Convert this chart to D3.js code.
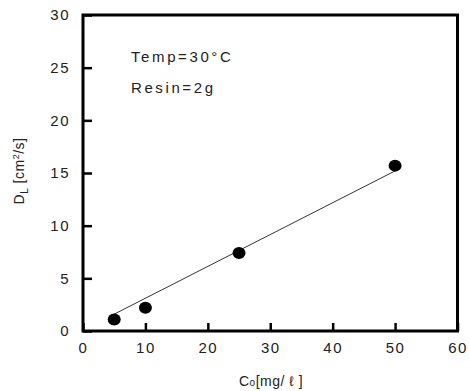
<!DOCTYPE html>
<html>
<head>
<meta charset="utf-8">
<script src="https://cdn.jsdelivr.net/npm/d3@7"></script>
<style>
  body { margin: 0; background: #fff; }
  text { font-family: "Liberation Sans", Arial, sans-serif; fill: #222; }
</style>
</head>
<body>
<script>
// measured points
var conc = [5, 10, 25, 50];
var dl = [1.1, 2.2, 7.4, 15.7];

// fitted line ends
var fitX = [5, 50];
var fitY = [1.6, 15.2];

var xTicks = [0, 10, 20, 30, 40, 50, 60];
var yTicks = [0, 5, 10, 15, 20, 25, 30];

var notes = ["Temp=30°C", "Resin=2g"];

var width = 469,
	height = 391;

var svg = d3.select("body").append("svg")
			.attr("width", width)
			.attr("height", height);

var x = d3.scaleLinear().domain([0, 60]).range([83, 457.5]);
var y = d3.scaleLinear().domain([0, 30]).range([331, 15]);

// frame
svg.append("rect")
	.attr("x", x(0))
	.attr("y", y(30))
	.attr("width", x(60) - x(0))
	.attr("height", y(0) - y(30))
	.style("fill", "none")
	.style("stroke", "#000")
	.style("stroke-width", 3);

var yAxis = svg.append("g")
	.attr("transform", "translate(" + x(0) + ",0)")
	.call(d3.axisLeft(y).tickValues(yTicks).tickSize(-9).tickPadding(13));

var xAxis = svg.append("g")
	.attr("transform", "translate(0," + y(0) + ")")
	.call(d3.axisBottom(x).tickValues(xTicks).tickSize(-8).tickPadding(11));

[yAxis, xAxis].forEach(function(g){
	g.select(".domain").remove();
	g.selectAll("line").style("stroke", "#000").style("stroke-width", 2.5);
	g.selectAll("text")
		.style("font-size", "15px")
		.style("letter-spacing", "1.5px")
		.style("font-family", "'Liberation Sans', Arial, sans-serif")
		.style("fill", "#222");
});

// fit line
svg.append("line")
	.attr("x1", x(fitX[0]))
	.attr("y1", y(fitY[0]))
	.attr("x2", x(fitX[1]))
	.attr("y2", y(fitY[1]))
	.style("stroke", "#333")
	.style("stroke-width", 1);

svg.selectAll(".pt")
	.data(conc)
	.enter()
	.append("ellipse")
	.attr("class", "pt")
	.attr("cx", function(d){ return x(d); })
	.attr("cy", function(d, i){ return y(dl[i]); })
	.attr("rx", 6.5)
	.attr("ry", 6)
	.style("fill", "#000");

// annotations
svg.selectAll(".note")
	.data(notes)
	.enter()
	.append("text")
	.attr("class", "note")
	.attr("x", 131)
	.attr("y", function(d, i){ return 62 + i * 31; })
	.style("font-size", "15px")
	.style("letter-spacing", "2.6px")
	.text(function(d){ return d; });

// x label
var xl = svg.append("text")
	.attr("x", 271)
	.attr("y", 386)
	.attr("text-anchor", "middle")
	.style("font-size", "14px")
	.style("letter-spacing", "0.5px");
xl.append("tspan").text("C");
xl.append("tspan").style("font-size", "10px").text("o");
xl.append("tspan").text("[mg/ ℓ ]");

// y label
var yl = svg.append("text")
	.attr("transform", "translate(24,171) rotate(-90)")
	.attr("text-anchor", "middle")
	.style("font-size", "14px")
	.style("letter-spacing", "0.5px");
yl.append("tspan").text("D");
yl.append("tspan").attr("dy", 4).style("font-size", "10px").text("L");
yl.append("tspan").attr("dy", -4).text(" [cm");
yl.append("tspan").attr("dy", -5).style("font-size", "9px").text("2");
yl.append("tspan").attr("dy", 5).text("/s]");
</script>
</body>
</html>
